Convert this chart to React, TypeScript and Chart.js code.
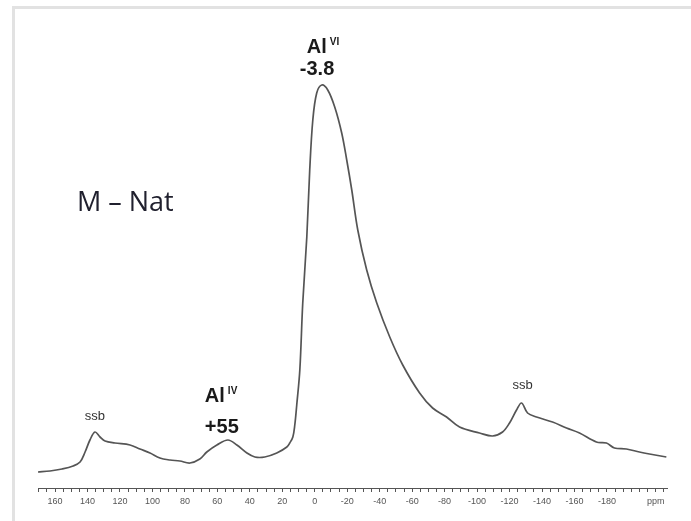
import React, { useEffect, useRef } from "react";
import { Chart, registerables } from "chart.js";

Chart.register(...registerables);

// chemical shift (ppm) of each traced point
const shiftPpm = [
  170.5, 163.1, 155.7, 148.9, 144.6, 141.5, 138.5, 135.4, 132.3, 129.2, 123.1, 113.8, 107.7, 101.5,
  95.4, 89.2, 83.1, 76.9, 70.8, 66.5, 60.3, 53.5, 48.0, 41.8, 36.9, 30.8, 23.4, 17.2, 15.4, 13.5,
  12.3, 11.1, 9.2, 7.4, 4.9, 3.1, 1.2, -1.2, -4.3, -8.0, -12.3, -16.6, -19.7, -22.8, -26.5, -32.0,
  -38.2, -46.2, -54.2, -64.6, -72.6, -81.2, -89.2, -101.5, -109.5, -115.7, -120.0, -124.3, -127.4,
  -131.1, -136.6, -146.5, -155.1, -163.1, -173.5, -179.7, -184.6, -192.0, -200.0, -206.2, -216.6,
];
// signal intensity (arbitrary units)
const intensity = [
  16, 17, 19, 22, 26, 36, 48, 56, 51, 47, 45, 43, 39, 35,
  30, 28, 27, 25, 29, 36, 43, 48, 43, 35, 31, 31, 35, 41, 45, 51,
  63, 83, 118, 185, 251, 318, 368, 395, 403, 398, 381, 355, 328, 298, 258, 218,
  185, 151, 123, 95, 80, 71, 61, 55, 52, 56, 65, 78, 85,
  75, 71, 66, 60, 55, 46, 45, 40, 39, 36, 34, 31,
];

const xMin = -217;
const xMax = 170.5;
const yMax = 468;
const tickStep = 5;
const labelStep = 20;
const unitLabel = "ppm";
const unitLabelAt = -210;
const lastNumberLabel = -180;
const sampleName = "M – Nat";

// annotation texts: [text, superscript, ppm, intensity]
const peakLabels: [string, string, number, number][] = [
  ["Al", "VI", 4.9, 435],
  ["-3.8", "", 9.2, 413],
  ["Al", "IV", 67.7, 86],
  ["+55", "", 67.7, 55],
];
const ssbLabels: [string, number, number][] = [
  ["ssb", 135.4, 72],
  ["ssb", -128, 103],
];
const namePos = [146.5, 285];

const annotate = {
  id: "annotate",
  afterDatasetsDraw(chart: any) {
    const { ctx } = chart;
    const xs = chart.scales.x;
    const ys = chart.scales.y;
    ctx.save();
    ctx.textBaseline = "alphabetic";
    for (const [t, sup, p, v] of peakLabels) {
      const x = xs.getPixelForValue(p);
      const y = ys.getPixelForValue(v);
      ctx.fillStyle = "#1a1a1a";
      ctx.font = "bold 20px 'Liberation Sans', Arial, sans-serif";
      ctx.textAlign = "left";
      ctx.fillText(t, x, y);
      if (sup) {
        const w = ctx.measureText(t).width;
        ctx.font = "bold 10px 'Liberation Sans', Arial, sans-serif";
        ctx.fillText(sup, x + w + 3, y - 8);
      }
    }
    ctx.font = "13px 'Liberation Sans', Arial, sans-serif";
    ctx.fillStyle = "#333";
    ctx.textAlign = "center";
    ctx.textBaseline = "middle";
    for (const [t, p, v] of ssbLabels) {
      ctx.fillText(t, xs.getPixelForValue(p), ys.getPixelForValue(v));
    }
    ctx.font = "27px 'Open Sans', sans-serif";
    ctx.fillStyle = "#20202e";
    ctx.textAlign = "left";
    ctx.fillText(sampleName, xs.getPixelForValue(namePos[0]), ys.getPixelForValue(namePos[1]));
    ctx.restore();
  },
};

export default function App() {
  const ref = useRef<HTMLCanvasElement | null>(null);
  useEffect(() => {
    document.body.style.margin = "0";
    const canvas = ref.current!;
    const chart = new Chart(canvas, {
      type: "line",
      data: {
        datasets: [
          {
            data: shiftPpm.map((p, i) => ({ x: p, y: intensity[i] })),
            borderColor: "#555555",
            borderWidth: 1.7,
            pointRadius: 0,
            tension: 0.35,
            fill: false,
          },
        ],
      },
      options: {
        animation: false,
        responsive: false,
        layout: { padding: { left: 38, right: 24, top: 20, bottom: 0 } },
        plugins: { legend: { display: false }, tooltip: { enabled: false } },
        scales: {
          x: {
            type: "linear",
            reverse: true,
            min: xMin,
            max: xMax,
            afterFit: (scale: any) => {
              scale.height = 33;
            },
            border: { display: true, color: "#555", width: 1 },
            grid: { drawOnChartArea: false, drawTicks: true, tickLength: 4, color: "#555" },
            ticks: {
              stepSize: tickStep,
              includeBounds: false,
              autoSkip: false,
              maxRotation: 0,
              padding: 4,
              color: "#555",
              font: { size: 9, family: "'Liberation Sans', Arial, sans-serif" },
              callback: (value: any) => {
                const v = Math.round(Number(value));
                if (v === unitLabelAt) return unitLabel;
                if (v % labelStep === 0 && v >= lastNumberLabel) return String(v);
                return "";
              },
            },
          },
          y: { display: false, min: 0, max: yMax },
        },
      },
      plugins: [annotate],
    });
    return () => chart.destroy();
  }, []);
  return (
    <div style={{ position: "fixed", left: 0, top: 0, width: 691, height: 521, background: "#fff" }}>
      <div
        style={{
          position: "absolute",
          left: 12,
          top: 6,
          right: 0,
          bottom: 0,
          borderTop: "3px solid #e2e2e2",
          borderLeft: "3px solid #e2e2e2",
        }}
      />
      <canvas ref={ref} width={691} height={521} style={{ position: "absolute", left: 0, top: 0 }} />
    </div>
  );
}
